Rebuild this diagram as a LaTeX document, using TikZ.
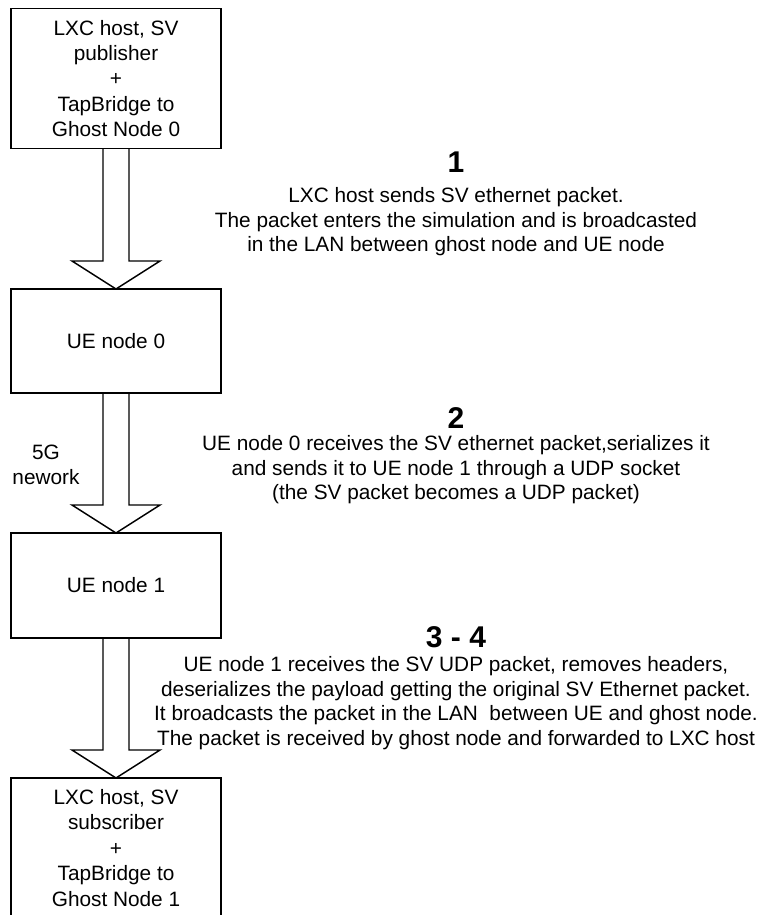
\documentclass[tikz,border=0pt]{standalone}
\usepackage{fontspec}
\setmainfont{Liberation Sans}
\usetikzlibrary{calc}
\newcommand\mybodyfont{\fontsize{15.6}{18.4}\selectfont}
\newcommand\myboxfont{\fontsize{15.6}{19.1}\selectfont}
\newcommand\mynumfont{\fontsize{22.5}{24}\selectfont\bfseries}
\newcommand\fatarrow[2]{\draw[fat] ($(#1.south)+(-13,0)$) -- ($(#2.north)+(-13,-28)$) -- ($(#2.north)+(-44,-28)$) -- (#2.north) -- ($(#2.north)+(44,-28)$) -- ($(#2.north)+(13,-28)$) -- ($(#1.south)+(13,0)$);}
\begin{document}
\begin{tikzpicture}[x=0.75pt,y=-0.75pt,
 box/.style={draw, line width=1.1pt, rectangle, minimum width=157.5pt, inner sep=0pt, outer sep=0pt, align=center, font=\myboxfont},
 fat/.style={draw, line width=1.1pt, line join=miter},
 txt/.style={align=center, font=\mybodyfont, inner sep=0pt},
 num/.style={font=\mynumfont, inner sep=0pt}]
\useasboundingbox (0,0) rectangle (765,915);
\clip (0,0) rectangle (765,915);
\fill[white] (0,0) rectangle (765,915);

\node[box, minimum height=105pt] (host0) at (116,78.5) {LXC host, SV\\publisher\\+\\TapBridge to\\Ghost Node 0};
\node[box, minimum height=78pt] (ue0) at (116,341) {UE node 0};
\node[box, minimum height=78.75pt] (ue1) at (116,585.5) {UE node 1};
\node[box, minimum height=105pt] (host1) at (116,848) {LXC host, SV\\subscriber\\+\\TapBridge to\\Ghost Node 1};

\fatarrow{host0}{ue0}
\fatarrow{ue0}{ue1}
\fatarrow{ue1}{host1}

\node[txt] (net) at (46,465) {5G\\nework};

\node[num] (n1) at (456,162) {1};
\node[txt] (p1) at (456,222) {LXC host sends SV ethernet packet.\\The packet enters the simulation and is broadcasted\\in the LAN between ghost node and UE node};
\node[num] (n2) at (456,418) {2};
\node[txt] (p2) at (456,470) {UE node 0 receives the SV ethernet packet,serializes it\\and sends it to UE node 1 through a UDP socket\\(the SV packet becomes a UDP packet)};
\node[num] (n3) at (456,637) {3 - 4};
\node[txt] (p3) at (456,703) {UE node 1 receives the SV UDP packet, removes headers,\\deserializes the payload getting the original SV Ethernet packet.\\It broadcasts the packet in the LAN\ \ between UE and ghost node.\\The packet is received by ghost node and forwarded to LXC host};
\end{tikzpicture}
\end{document}
